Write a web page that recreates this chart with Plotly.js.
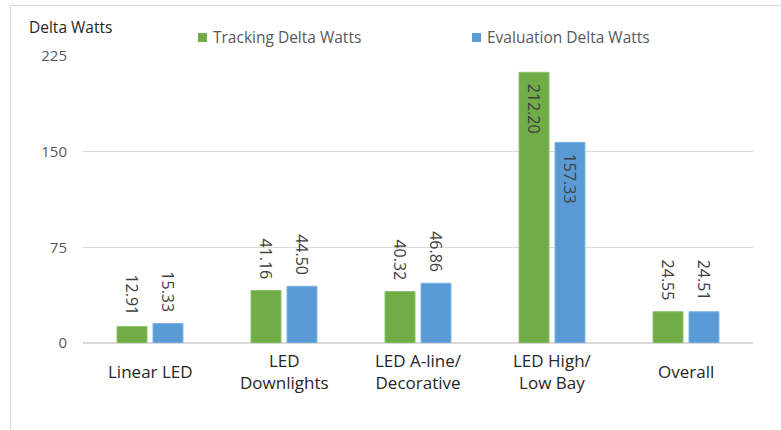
<!DOCTYPE html>
<html>
<head>
<meta charset="utf-8">
<script src="https://cdn.plot.ly/plotly-3.0.1.min.js"></script>
<style>
  html, body { margin: 0; padding: 0; background: #fff; overflow: hidden; }
  #frame { position: absolute; left: 10px; top: 5px; width: 800px; height: 440px;
           border-left: 1px solid #d9d9d9; border-top: 1px solid #d9d9d9; }
  #chart { position: absolute; left: 0; top: 0; width: 781px; height: 430px; }
</style>
</head>
<body>
<div id="frame"></div>
<div id="chart"></div>
<script>
// Lighting categories (line breaks as shown under each group)
const categories = ['Linear LED', 'LED<br>Downlights', 'LED A-line/<br>Decorative', 'LED High/<br>Low Bay', 'Overall'];
const seriesNames = ['Tracking Delta Watts', 'Evaluation Delta Watts'];
const trackingWatts = [12.91, 41.16, 40.32, 212.20, 24.55];
const evaluationWatts = [15.33, 44.50, 46.86, 157.33, 24.51];
const yTicks = [0, 75, 150, 225];

const seriesColors = ['#70AD47', '#5B9BD5'];
const FONT = 'Open Sans, Liberation Sans, sans-serif';
const labelFont = { family: FONT, size: 16, color: '#404040' };
const NBSP2 = '\u00a0\u00a0';

// Tall bars carry their label inside, near the top; the rest sit above the bar
function positions(vals) {
  return vals.map(v => v > 100 ? 'inside' : 'outside');
}
function labels(vals) {
  return vals.map(v => v > 100 ? NBSP2 + v.toFixed(2) : v.toFixed(2) + NBSP2);
}

function barTrace(name, vals, color, edge) {
  return {
    type: 'bar',
    name: name,
    x: categories,
    y: vals,
    text: labels(vals),
    textposition: positions(vals),
    textangle: 90,
    textfont: labelFont,
    insidetextfont: labelFont,
    outsidetextfont: labelFont,
    insidetextanchor: 'end',
    constraintext: 'none',
    cliponaxis: false,
    hoverinfo: 'skip',
    showlegend: false,
    marker: { color: color, line: { color: edge, width: 1 } }
  };
}

const traces = [
  barTrace(seriesNames[0], trackingWatts, seriesColors[0], '#8cc46a'),
  barTrace(seriesNames[1], evaluationWatts, seriesColors[1], '#7db3e3')
];

// Category labels, vertically centred under each group
const catAnnotations = categories.map(c => ({
  x: c, xref: 'x', y: -0.101, yref: 'paper',
  text: c, showarrow: false, yanchor: 'middle', xanchor: 'center',
  font: { family: FONT, size: 17, color: '#262626' }
}));

// Legend: small colour square followed by the series name
const legendX = [0.1716, 0.5806];
const legendShapes = seriesNames.map((n, i) => ({
  type: 'rect', xref: 'paper', yref: 'paper',
  x0: legendX[i], x1: legendX[i] + 0.0134,
  y0: 1.0488, y1: 1.0801,
  fillcolor: seriesColors[i], line: { width: 0 }
}));
const legendText = seriesNames.map((n, i) => ({
  text: n, xref: 'paper', yref: 'paper',
  x: legendX[i] + 0.0195, y: 1.0645, xanchor: 'left', yanchor: 'middle',
  showarrow: false,
  font: { family: FONT, size: 15.5, color: '#595959' }
}));

const layout = {
  width: 781,
  height: 430,
  paper_bgcolor: 'rgba(0,0,0,0)',
  plot_bgcolor: 'rgba(0,0,0,0)',
  margin: { l: 83, r: 28, t: 56, b: 87 },
  barmode: 'group',
  bargap: 0.463,
  bargroupgap: 0.167,
  showlegend: false,
  xaxis: {
    type: 'category',
    showticklabels: false,
    showgrid: false,
    zeroline: false,
    showline: false,
    ticks: ''
  },
  yaxis: {
    range: [0, 225],
    tickvals: yTicks,
    ticktext: yTicks.map(String),
    showgrid: true,
    gridcolor: '#d9d9d9',
    gridwidth: 1.5,
    zeroline: true,
    zerolinecolor: '#d9d9d9',
    zerolinewidth: 1.5,
    showline: false,
    ticks: '',
    ticklabelstandoff: 15,
    tickfont: { family: FONT, size: 15, color: '#595959' }
  },
  shapes: legendShapes,
  annotations: [
    {
      text: 'Delta Watts', xref: 'paper', yref: 'paper',
      x: -0.084, y: 1.101, xanchor: 'left', yanchor: 'middle', showarrow: false,
      font: { family: FONT, size: 15.5, color: '#262626' }
    }
  ].concat(legendText, catAnnotations)
};

Plotly.newPlot('chart', traces, layout, { displayModeBar: false, staticPlot: true });
</script>
</body>
</html>
